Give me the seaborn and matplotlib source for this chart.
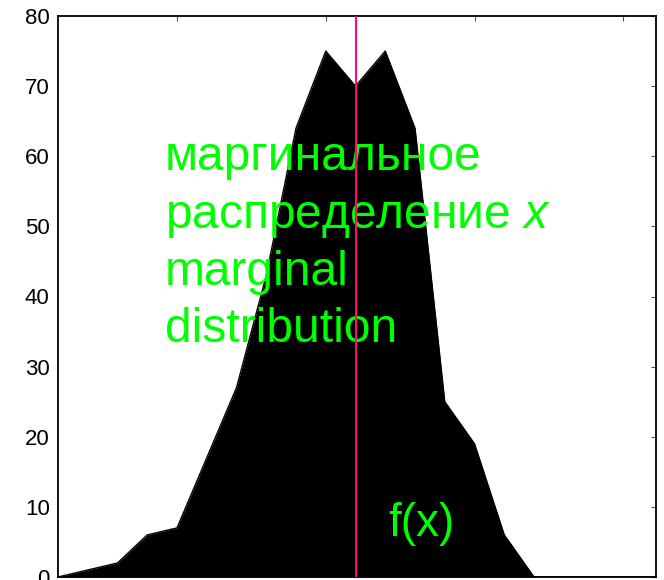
import matplotlib
matplotlib.use("Agg")
import matplotlib.pyplot as plt
import seaborn as sns
import pandas as pd

# Histogram of x: bin centres and counts
bin_centers = [-1.8, -1.6, -1.4, -1.2, -1.0, -0.8, -0.6, -0.4, -0.2, 0.0, 0.2,
               0.4, 0.6, 0.8, 1.0, 1.2, 1.4, 1.6, 1.8, 2.0, 2.2]
counts = [0, 1, 2, 6, 7, 17, 27, 43, 64, 75, 70,
          75, 64, 25, 19, 6, 0, 0, 0, 0, 0]
x_mean = 0.2

x_ticks = [-1, 0, 1, 2]
y_ticks = [0, 10, 20, 30, 40, 50, 60, 70, 80]

label_lines = ["маргинальное", "распределение $x$", "marginal", "distribution"]
curve_label = "f(x)"

sns.set_style("white")
plt.rcParams["font.family"] = ["Liberation Sans", "DejaVu Sans"]
plt.rcParams["mathtext.fontset"] = "custom"
plt.rcParams["mathtext.it"] = "Liberation Sans:italic"
plt.rcParams["mathtext.rm"] = "Liberation Sans"

df = pd.DataFrame({"x": bin_centers, "count": counts})

W, H = 664, 580
fig = plt.figure(figsize=(W / 100, H / 100), dpi=100)
ax = fig.add_axes([58 / W, 3 / H, 598 / W, 561 / H])

ax.fill_between(df["x"], df["count"], 0, color="black", linewidth=0, zorder=1)
sns.lineplot(data=df, x="x", y="count", color="black", linewidth=1, ax=ax, zorder=2)

ax.axvline(x_mean, color="#ff0a6e", linewidth=1.5, zorder=5)

ax.set_xlim(-1.8, 2.22)
ax.set_ylim(0, 80)
ax.set_xticks(x_ticks)
ax.set_yticks(y_ticks)
ax.set_xlabel("")
ax.set_ylabel("")
ax.tick_params(axis="both", direction="in", length=3.6, width=0.8, color="#555555",
               top=True, right=True, labelbottom=False, labelsize=16, pad=6,
               labelcolor="black")
for s in ax.spines.values():
    s.set_visible(True)
    s.set_color("black")
    s.set_linewidth(1.3)

green = "#00ff00"
baselines = [170, 228, 285, 342]
for line, yb in zip(label_lines, baselines):
    ax.text(165 / W, 1 - yb / H, line, transform=fig.transFigure, color=green,
            fontsize=34.5, va="baseline", ha="left", zorder=4)

ax.text(388 / W, 1 - 536 / H, curve_label, transform=fig.transFigure, color=green,
        fontsize=33, va="baseline", ha="left", zorder=4)

fig.savefig("out.png", dpi=100)
